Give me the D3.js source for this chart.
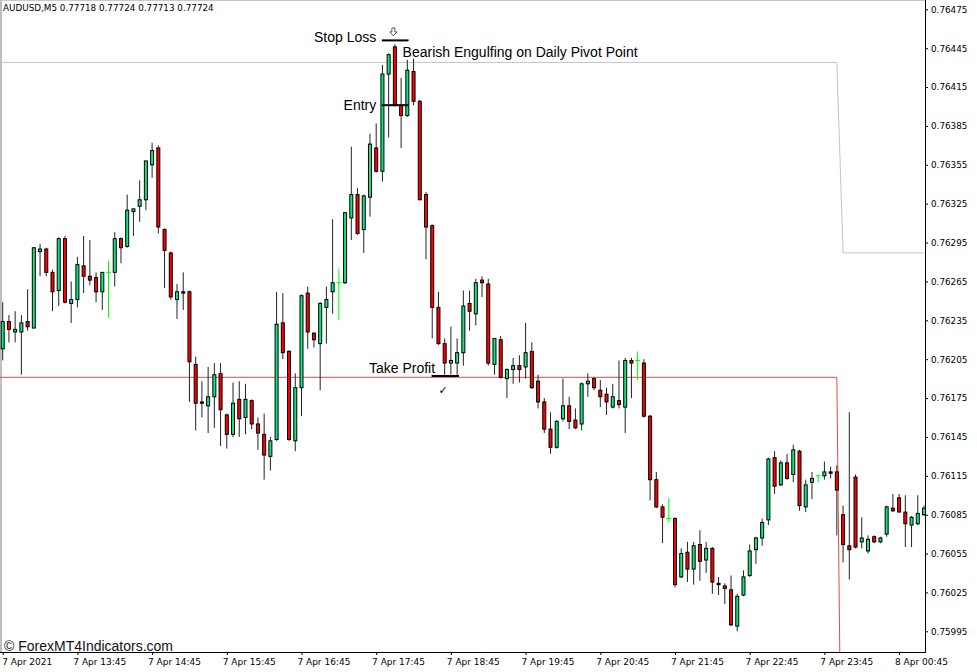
<!DOCTYPE html>
<html><head><meta charset="utf-8">
<script src="https://cdn.jsdelivr.net/npm/d3@7"></script>
<style>body{margin:0;background:#fff;}svg{display:block}</style>
</head><body>
<svg id="c" width="977" height="672"></svg>
<script>
const chartTitle = "AUDUSD,M5  0.77718 0.77724 0.77713 0.77724";
const copyrightText = "\u00A9 ForexMT4Indicators.com";

const openP = [
0.76213,0.76234,0.76226,0.76226,0.76234,0.76229,0.76288,0.76290,0.76272,0.76258,
0.76298,0.76248,0.76251,0.76277,0.76269,0.76268,0.76257,0.76272,0.76272,0.76298,
0.76292,0.76319,0.76323,0.76328,0.76355,0.76368,0.76305,0.76287,0.76251,0.76257,
0.76257,0.76201,0.76172,0.76169,0.76176,0.76194,0.76162,0.76147,0.76174,0.76160,
0.76173,0.76155,0.76147,0.76130,0.76143,0.76233,0.76211,0.76142,0.76183,0.76256,
0.76225,0.76217,0.76245,0.76257,0.76264,0.76264,0.76314,0.76332,0.76305,0.76330,
0.76368,0.76350,0.76425,0.76446,0.76401,0.76393,0.76427,0.76404,0.76332,0.76308,
0.76245,0.76217,0.76202,0.76202,0.76210,0.76248,0.76240,0.76266,0.76263,0.76201,
0.76220,0.76190,0.76197,0.76200,0.76199,0.76211,0.76188,0.76172,0.76151,0.76137,
0.76159,0.76169,0.76158,0.76155,0.76186,0.76190,0.76181,0.76178,0.76168,0.76173,
0.76168,0.76204,0.76204,0.76202,0.76161,0.76112,0.76091,0.76082,0.76082,0.76037,
0.76056,0.76043,0.76062,0.76050,0.76059,0.76032,0.76030,0.76027,0.75999,0.76023,
0.76038,0.76058,0.76067,0.76081,0.76129,0.76108,0.76125,0.76116,0.76134,0.76091,
0.76110,0.76115,0.76115,0.76118,0.76118,0.76085,0.76061,0.76114,0.76064,0.76057,
0.76068,0.76064,0.76070,0.76090,0.76098,0.76087,0.76077,0.76078,0.76085];
const highP = [
0.76249,0.76239,0.76242,0.76239,0.76259,0.76291,0.76294,0.76291,0.76274,0.76299,
0.76300,0.76265,0.76284,0.76300,0.76297,0.76272,0.76272,0.76281,0.76303,0.76299,
0.76332,0.76321,0.76343,0.76358,0.76372,0.76370,0.76306,0.76288,0.76263,0.76272,
0.76258,0.76207,0.76188,0.76199,0.76202,0.76202,0.76163,0.76187,0.76188,0.76186,
0.76174,0.76160,0.76163,0.76145,0.76257,0.76256,0.76212,0.76194,0.76255,0.76261,
0.76226,0.76249,0.76261,0.76313,0.76275,0.76318,0.76369,0.76337,0.76332,0.76379,
0.76387,0.76432,0.76441,0.76448,0.76422,0.76436,0.76437,0.76405,0.76334,0.76309,
0.76257,0.76221,0.76230,0.76221,0.76258,0.76258,0.76267,0.76269,0.76267,0.76221,
0.76223,0.76198,0.76206,0.76208,0.76233,0.76218,0.76193,0.76175,0.76164,0.76158,
0.76190,0.76176,0.76167,0.76187,0.76194,0.76191,0.76189,0.76183,0.76186,0.76204,
0.76206,0.76206,0.76211,0.76205,0.76162,0.76118,0.76093,0.76098,0.76083,0.76059,
0.76064,0.76064,0.76073,0.76064,0.76060,0.76037,0.76032,0.76038,0.76024,0.76042,
0.76062,0.76068,0.76082,0.76129,0.76134,0.76127,0.76132,0.76139,0.76135,0.76112,
0.76118,0.76116,0.76126,0.76122,0.76123,0.76092,0.76164,0.76116,0.76083,0.76069,
0.76069,0.76068,0.76092,0.76101,0.76101,0.76100,0.76084,0.76100,0.76092];
const lowP = [
0.76204,0.76218,0.76218,0.76193,0.76227,0.76229,0.76269,0.76269,0.76242,0.76246,
0.76248,0.76233,0.76245,0.76256,0.76262,0.76249,0.76243,0.76237,0.76261,0.76279,
0.76291,0.76300,0.76311,0.76320,0.76345,0.76302,0.76260,0.76251,0.76236,0.76243,
0.76172,0.76150,0.76160,0.76148,0.76152,0.76138,0.76136,0.76145,0.76145,0.76147,
0.76151,0.76135,0.76112,0.76119,0.76142,0.76205,0.76142,0.76134,0.76161,0.76213,
0.76214,0.76181,0.76217,0.76240,0.76235,0.76263,0.76297,0.76301,0.76287,0.76315,
0.76349,0.76342,0.76376,0.76400,0.76368,0.76392,0.76401,0.76328,0.76282,0.76221,
0.76216,0.76193,0.76193,0.76193,0.76200,0.76227,0.76231,0.76253,0.76200,0.76193,
0.76190,0.76175,0.76186,0.76187,0.76190,0.76182,0.76167,0.76148,0.76132,0.76136,
0.76157,0.76151,0.76151,0.76150,0.76176,0.76181,0.76168,0.76162,0.76167,0.76167,
0.76148,0.76175,0.76189,0.76160,0.76096,0.76090,0.76063,0.76079,0.76029,0.76036,
0.76033,0.76031,0.76034,0.76040,0.76024,0.76023,0.76016,0.75999,0.75995,0.76022,
0.76037,0.76047,0.76061,0.76077,0.76101,0.76107,0.76112,0.76110,0.76088,0.76087,
0.76097,0.76110,0.76112,0.76113,0.76069,0.76048,0.76035,0.76059,0.76059,0.76055,
0.76063,0.76063,0.76068,0.76087,0.76087,0.76060,0.76060,0.76077,0.76084];
const closeP = [
0.76234,0.76228,0.76228,0.76233,0.76230,0.76291,0.76290,0.76272,0.76257,0.76298,
0.76249,0.76251,0.76278,0.76269,0.76266,0.76257,0.76272,0.76272,0.76298,0.76291,
0.76320,0.76321,0.76328,0.76358,0.76366,0.76307,0.76289,0.76253,0.76257,0.76256,
0.76203,0.76171,0.76171,0.76176,0.76193,0.76166,0.76147,0.76171,0.76159,0.76174,
0.76155,0.76148,0.76131,0.76142,0.76232,0.76210,0.76143,0.76183,0.76254,0.76226,
0.76220,0.76248,0.76251,0.76264,0.76264,0.76318,0.76332,0.76302,0.76331,0.76371,
0.76350,0.76425,0.76440,0.76401,0.76393,0.76428,0.76404,0.76328,0.76307,0.76245,
0.76217,0.76202,0.76204,0.76210,0.76246,0.76242,0.76264,0.76264,0.76202,0.76221,
0.76191,0.76197,0.76200,0.76197,0.76210,0.76183,0.76172,0.76151,0.76137,0.76157,
0.76169,0.76157,0.76152,0.76186,0.76188,0.76183,0.76176,0.76172,0.76176,0.76170,
0.76204,0.76202,0.76204,0.76161,0.76112,0.76091,0.76083,0.76082,0.76031,0.76055,
0.76043,0.76061,0.76049,0.76059,0.76033,0.76031,0.76028,0.76000,0.76022,0.76037,
0.76057,0.76067,0.76079,0.76128,0.76107,0.76125,0.76113,0.76135,0.76092,0.76108,
0.76113,0.76115,0.76118,0.76117,0.76104,0.76062,0.76058,0.76060,0.76067,0.76066,
0.76064,0.76067,0.76091,0.76088,0.76087,0.76078,0.76083,0.76086,0.76090];

const timeTickIndex = [0,12,24,36,48,60,72,84,96,108,120,132,144];
const timeTickLabels = ["7 Apr 2021","7 Apr 13:45","7 Apr 14:45","7 Apr 15:45","7 Apr 16:45",
  "7 Apr 17:45","7 Apr 18:45","7 Apr 19:45","7 Apr 20:45","7 Apr 21:45","7 Apr 22:45",
  "7 Apr 23:45","8 Apr 00:45"];
const priceTicks = [0.76475,0.76445,0.76415,0.76385,0.76355,0.76325,0.76295,0.76265,0.76235,
  0.76205,0.76175,0.76145,0.76115,0.76085,0.76055,0.76025,0.75995];

// daily levels (pivot and lower level), per trading day
const dayStart = [-1, 135];
const dayEnd = [134, 148];
const pivotLevel = [0.76434, 0.76287];
const lowerLevel = [0.76191, 0.75740];

// trade annotations
const annLabels = ["Stop Loss", "Entry", "Take Profit"];
const annPrice = [0.76451, 0.76401, 0.76192];
const annFrom = [60.9, 60.9, 68.9];
const annTo = [65.2, 65.2, 73.3];
const patternLabel = "Bearish Engulfing on Daily Pivot Point";

const W = 977, H = 672, plotR = 925, plotB = 652;
const svg = d3.select("#c");
const x = d3.scaleLinear().domain([0, 148]).range([2.7, 924]);
const y = d3.scaleLinear().domain([0.75995, 0.76475]).range([631.3, 9.3]);

svg.append("defs").append("clipPath").attr("id","clip")
  .append("rect").attr("x",0).attr("y",0).attr("width",plotR).attr("height",plotB);

// frame
svg.append("line").attr("x1",1).attr("x2",1).attr("y1",0).attr("y2",plotB).attr("stroke","#a8a8a8").attr("stroke-width",1.5);
svg.append("line").attr("x1",0).attr("x2",plotR).attr("y1",0.5).attr("y2",0.5).attr("stroke","#c8c8c8");

const g = svg.append("g").attr("clip-path","url(#clip)");

// level lines
function levelPts(levels){
  const pts = [];
  levels.forEach((v,k)=>{ pts.push([x(dayStart[k]), y(v)]); pts.push([x(dayEnd[k]), y(v)]); });
  return pts;
}
const ln = d3.line();
g.append("path").attr("d", ln(levelPts(pivotLevel))).attr("fill","none").attr("stroke","#c4c4c4").attr("stroke-width",1);
g.append("path").attr("d", ln(levelPts(lowerLevel))).attr("fill","none").attr("stroke","#f04646").attr("stroke-width",1);

// candles
const idx = d3.range(openP.length);
const cg = g.append("g");
idx.forEach(i=>{
  const cx = x(i), o = openP[i], c = closeP[i];
  if (o === c) {
    cg.append("line").attr("x1",cx).attr("x2",cx).attr("y1",y(highP[i])).attr("y2",y(lowP[i])).attr("stroke","#00ff00");
    cg.append("line").attr("x1",cx-2.5).attr("x2",cx+2.5).attr("y1",y(o)).attr("y2",y(o)).attr("stroke","#00ff00");
    return;
  }
  cg.append("line").attr("x1",cx).attr("x2",cx).attr("y1",y(highP[i])).attr("y2",y(lowP[i])).attr("stroke","#222").attr("stroke-width",1);
  const top = y(Math.max(o,c)), bot = y(Math.min(o,c));
  cg.append("rect").attr("x",cx-1.5).attr("y",top).attr("width",3).attr("height",Math.max(1,bot-top))
    .attr("fill", c > o ? "#12e682" : "#ff0000").attr("stroke","#000").attr("stroke-width",1);
});

// annotations
const ag = svg.append("g");
annLabels.forEach((t,k)=>{
  const yy = y(annPrice[k]);
  ag.append("line").attr("x1",x(annFrom[k])).attr("x2",x(annTo[k])).attr("y1",yy).attr("y2",yy)
    .attr("stroke","#000").attr("stroke-width",2);
  const dy = k===0 ? 2 : (k===1 ? 4.5 : -3.2);
  const tx = k===2 ? x(annFrom[k]) + 3.5 : x(annFrom[k]) - 5.5;
  ag.append("text").attr("x",tx).attr("y",yy+dy).attr("text-anchor","end")
    .attr("font-family","Liberation Sans, Arial, sans-serif").attr("font-size",14).attr("fill","#000").text(t);
});
// hollow down arrow above the stop loss mark
const ax = x(63) - 1.5, ayTop = y(annPrice[0]) - 12.5;
ag.append("path")
  .attr("d", `M${ax-1.5},${ayTop} h3 v4 h2 l-3.5,4 l-3.5,-4 h2 z`)
  .attr("fill","#fff").attr("stroke","#444").attr("stroke-width",0.9);
ag.append("text").attr("x", x(64.4)-1).attr("y", y(0.76434) - 5.5)
  .attr("font-family","Liberation Sans, Arial, sans-serif").attr("font-size",14).attr("fill","#000").text(patternLabel);
ag.append("text").attr("x", x(70.6)+1).attr("y", y(annPrice[2]) + 17.5).attr("text-anchor","middle")
  .attr("font-family","DejaVu Sans").attr("font-size",11).attr("fill","#000").text("\u2713");

// right price axis
const ya = svg.append("g").attr("transform",`translate(${plotR},0)`)
  .call(d3.axisRight(y).tickValues(priceTicks).tickSize(3).tickPadding(3).tickFormat(d3.format(".5f")));
ya.select(".domain").remove();
ya.selectAll("text").attr("font-family","DejaVu Sans").attr("font-size",8.8).attr("fill","#000");
ya.selectAll("line").attr("stroke","#000");
svg.append("line").attr("x1",plotR+0.5).attr("x2",plotR+0.5).attr("y1",0).attr("y2",plotB+0.5).attr("stroke","#000");

// bottom time axis
const xa = svg.append("g").attr("transform",`translate(0,${plotB})`)
  .call(d3.axisBottom(x).tickValues(timeTickIndex).tickSize(3).tickFormat((d,k)=>timeTickLabels[k]));
xa.select(".domain").remove();
xa.selectAll("line").attr("stroke","#000");
xa.selectAll("text").attr("font-family","DejaVu Sans").attr("font-size",9).attr("fill","#000")
  .attr("text-anchor","start").attr("dy",0).attr("y",13)
  .attr("x",(d,k)=> k===0 ? -1 : -4.6);
svg.append("line").attr("x1",0).attr("x2",plotR+1).attr("y1",plotB+0.5).attr("y2",plotB+0.5).attr("stroke","#000");

// title and copyright
svg.append("text").attr("x",3).attr("y",11).attr("font-family","DejaVu Sans").attr("font-size",8.8).attr("fill","#000").text(chartTitle);
svg.append("text").attr("x",4).attr("y",650.5).attr("font-family","Liberation Sans, Arial, sans-serif").attr("font-size",14).attr("fill","#111").text(copyrightText);
</script>
</body></html>
